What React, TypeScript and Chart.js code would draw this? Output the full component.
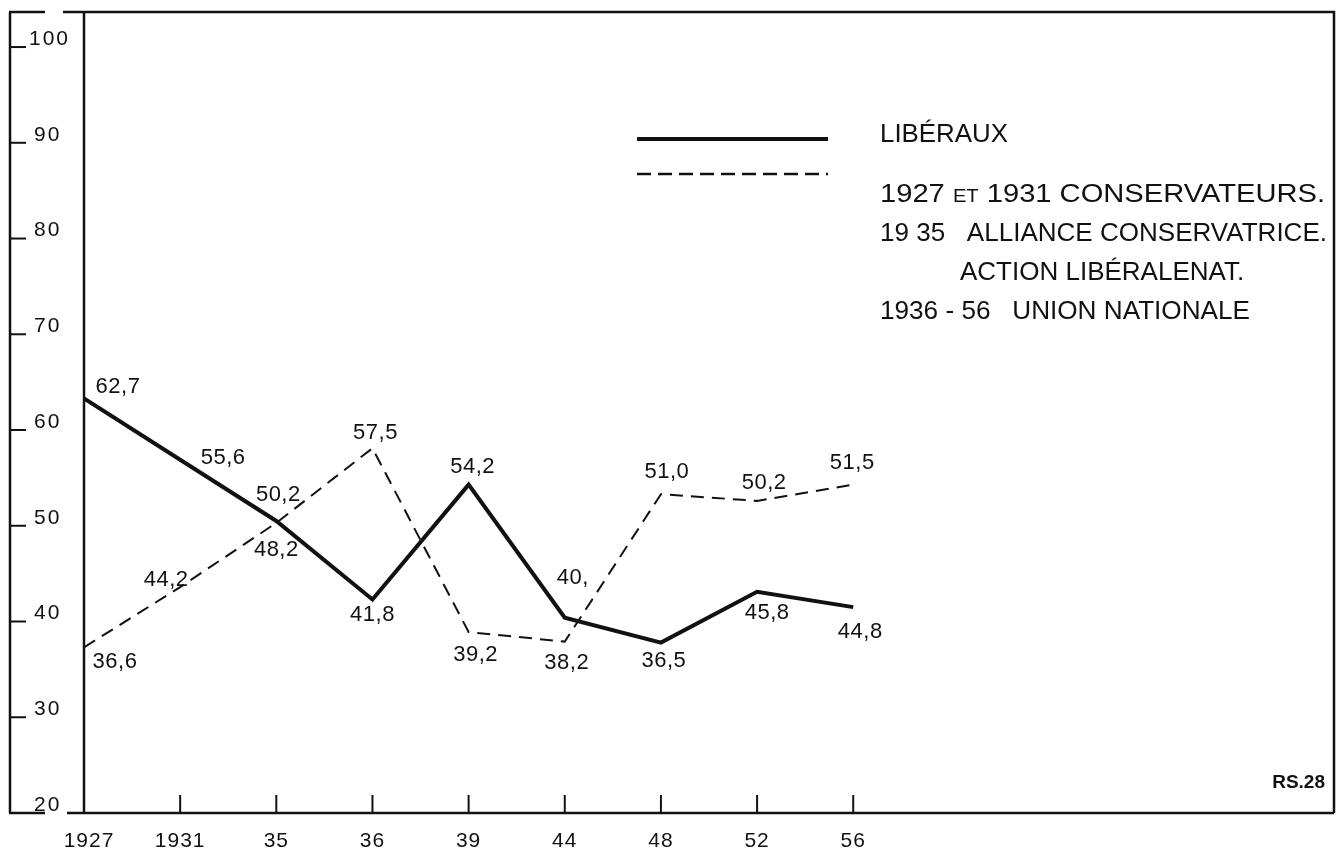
import React, { useEffect, useRef } from "react";
import { Chart, registerables } from "chart.js";

Chart.register(...registerables);

// ---- data ----
const categories = ["1927", "1931", "35", "36", "39", "44", "48", "52", "56"];
// plotted positions
const liberaux = [63.3, 56.9, 50.5, 42.3, 54.3, 40.4, 37.8, 43.1, 41.5];
const conservateurs = [37.3, 43.6, 50.3, 58.1, 38.9, 37.9, 53.3, 52.6, 54.3];
// values written beside the points
const liberauxLabels = ["62,7", "55,6", "50,2", "41,8", "54,2", "40,", "36,5", "45,8", "44,8"];
const conservateursLabels = ["36,6", "44,2", "48,2", "57,5", "39,2", "38,2", "51,0", "50,2", "51,5"];
const yTicks = [20, 30, 40, 50, 60, 70, 80, 90, 100];

// label placement (pixel offsets from the point)
const liberauxLabelOffsets = [
  [34, -11], [43, -2], [2, -26], [0, 15], [4, -18], [8, -40], [3, 18], [10, 21], [7, 25],
];
const conservateursLabelOffsets = [
  [31, 15], [-14, -7], [0, 27], [3, -15], [7, 23], [2, 21], [6, -22], [7, -18], [-1, -22],
];

const INK = "#111";
const FONT = "'Liberation Sans', Arial, sans-serif";

type Run = { t: string; size: number };

function drawRuns(ctx: CanvasRenderingContext2D, runs: Run[], x: number, y: number, width?: number) {
  ctx.save();
  let total = 0;
  const ws: number[] = [];
  for (const r of runs) {
    ctx.font = `${r.size}px ${FONT}`;
    const w = ctx.measureText(r.t).width;
    ws.push(w);
    total += w;
  }
  const s = width ? width / total : 1;
  ctx.translate(x, y);
  ctx.scale(s, 1);
  ctx.textBaseline = "alphabetic";
  ctx.textAlign = "left";
  ctx.fillStyle = INK;
  let cx = 0;
  runs.forEach((r, i) => {
    ctx.font = `${r.size}px ${FONT}`;
    ctx.fillText(r.t, cx, 0);
    cx += ws[i];
  });
  ctx.restore();
}

const decorPlugin = {
  id: "decor",
  afterDraw(chart: any) {
    const ctx: CanvasRenderingContext2D = chart.ctx;
    const { left, top, right, bottom } = chart.chartArea;
    const xs = chart.scales.x;
    const ys = chart.scales.y;
    ctx.save();
    ctx.strokeStyle = INK;
    ctx.fillStyle = INK;
    ctx.lineCap = "butt";

    // frame
    ctx.lineWidth = 2.5;
    ctx.beginPath();
    ctx.moveTo(10, top);
    ctx.lineTo(10, bottom);
    ctx.moveTo(9, top);
    ctx.lineTo(45, top);
    ctx.moveTo(63, top);
    ctx.lineTo(right, top);
    ctx.lineTo(right, bottom);
    ctx.moveTo(9, bottom);
    ctx.lineTo(45, bottom);
    ctx.moveTo(67, bottom);
    ctx.lineTo(right, bottom);
    ctx.moveTo(left, top);
    ctx.lineTo(left, bottom);
    ctx.stroke();

    // y ticks + labels
    ctx.lineWidth = 2;
    ctx.font = `21px ${FONT}`;
    (ctx as any).letterSpacing = "2px";
    ctx.textAlign = "left";
    ctx.textBaseline = "middle";
    yTicks.forEach((v) => {
      const y = ys.getPixelForValue(v);
      if (v !== 20) {
        ctx.beginPath();
        ctx.moveTo(10, y);
        ctx.lineTo(26, y);
        ctx.stroke();
      }
      ctx.fillText(String(v), v === 100 ? 29 : 34, y - 8);
    });

    // x ticks + labels
    ctx.font = `21px ${FONT}`;
    (ctx as any).letterSpacing = "1px";
    ctx.textAlign = "center";
    categories.forEach((c, i) => {
      const x = xs.getPixelForValue(i);
      if (i > 0) {
        ctx.beginPath();
        ctx.moveTo(x, bottom);
        ctx.lineTo(x, bottom - 18);
        ctx.stroke();
      }
      ctx.fillText(c, i === 0 ? x + 5 : x, bottom + 28);
    });

    // point labels
    ctx.font = `22px ${FONT}`;
    (ctx as any).letterSpacing = "0.5px";
    ctx.textAlign = "center";
    ctx.textBaseline = "middle";
    liberaux.forEach((v, i) => {
      const [dx, dy] = liberauxLabelOffsets[i];
      ctx.fillText(liberauxLabels[i], xs.getPixelForValue(i) + dx, ys.getPixelForValue(v) + dy);
    });
    conservateurs.forEach((v, i) => {
      const [dx, dy] = conservateursLabelOffsets[i];
      ctx.fillText(conservateursLabels[i], xs.getPixelForValue(i) + dx, ys.getPixelForValue(v) + dy);
    });
    (ctx as any).letterSpacing = "0px";

    // legend keys
    ctx.lineWidth = 4;
    ctx.beginPath();
    ctx.moveTo(637, 139);
    ctx.lineTo(828, 139);
    ctx.stroke();
    ctx.lineWidth = 2.5;
    ctx.setLineDash([14, 7]);
    ctx.beginPath();
    ctx.moveTo(637, 174);
    ctx.lineTo(828, 174);
    ctx.stroke();
    ctx.setLineDash([]);

    // legend text
    drawRuns(ctx, [{ t: "LIBÉRAUX", size: 26 }], 880, 142, 128);
    drawRuns(
      ctx,
      [
        { t: "1927 ", size: 26 },
        { t: "ET", size: 18 },
        { t: " 1931 CONSERVATEURS.", size: 26 },
      ],
      880, 202, 445
    );
    drawRuns(ctx, [{ t: "19 35   ALLIANCE CONSERVATRICE.", size: 26 }], 880, 241, 447);
    drawRuns(ctx, [{ t: "ACTION LIBÉRALENAT.", size: 26 }], 960, 280);
    drawRuns(ctx, [{ t: "1936 - 56   UNION NATIONALE", size: 26 }], 880, 319, 370);

    // reference mark
    ctx.font = `bold 19px ${FONT}`;
    ctx.textAlign = "right";
    ctx.textBaseline = "middle";
    ctx.fillText("RS.28", 1325, 783);
    ctx.restore();
  },
};

export default function App() {
  const ref = useRef<HTMLCanvasElement | null>(null);
  useEffect(() => {
    if (!ref.current) return;
    const chart = new Chart(ref.current, {
      type: "line",
      data: {
        datasets: [
          {
            label: "LIBÉRAUX",
            data: liberaux.map((v, i) => ({ x: i, y: v })),
            borderColor: INK,
            borderWidth: 4,
            pointRadius: 0,
            tension: 0,
            fill: false,
          },
          {
            label: "CONSERVATEURS / UNION NATIONALE",
            data: conservateurs.map((v, i) => ({ x: i, y: v })),
            borderColor: INK,
            borderWidth: 2,
            borderDash: [13, 8],
            pointRadius: 0,
            tension: 0,
            fill: false,
          },
        ],
      },
      options: {
        animation: false,
        responsive: true,
        maintainAspectRatio: false,
        layout: { padding: { left: 84, top: 12, right: 3, bottom: 42 } },
        plugins: { legend: { display: false }, tooltip: { enabled: false } },
        scales: {
          x: { type: "linear", min: 0, max: 13, display: false },
          y: { type: "linear", min: 20, max: 103.66, display: false },
        },
      },
      plugins: [decorPlugin],
    });
    return () => chart.destroy();
  }, []);
  return (
    <div style={{ position: "absolute", left: 0, top: 0, width: 1337, height: 855, background: "#fff" }}>
      <canvas ref={ref} />
    </div>
  );
}
